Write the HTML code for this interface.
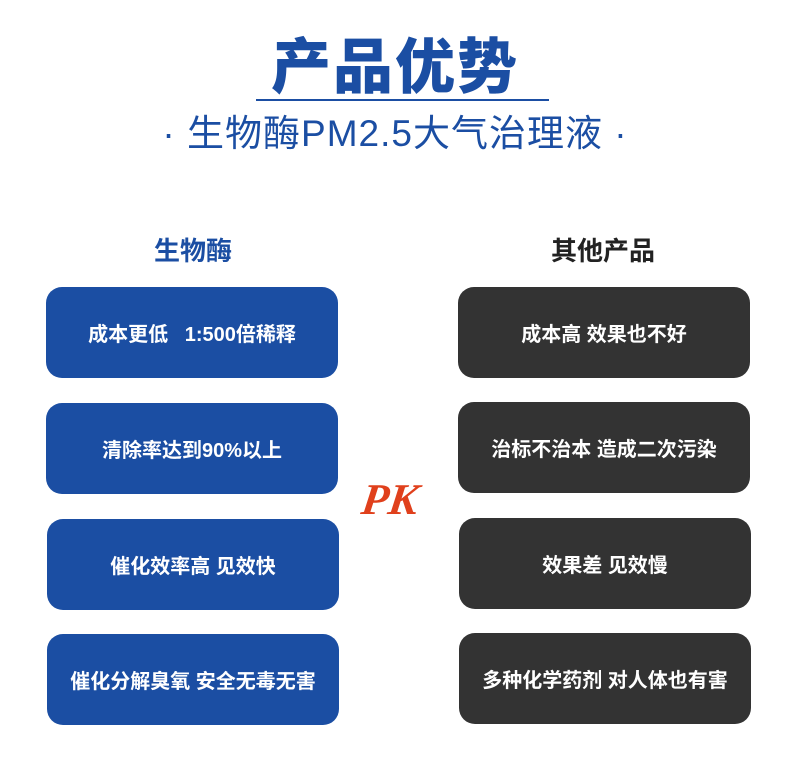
<!DOCTYPE html>
<html><head><meta charset="utf-8"><style>
body{margin:0;width:790px;height:776px;background:#fff;position:relative;overflow:hidden;font-family:"Liberation Sans","Noto Sans CJK SC",sans-serif}
.a{position:absolute;white-space:nowrap}
.t{left:0;width:790px;text-align:center}
.b{position:absolute;width:292px;height:91px;border-radius:16px;color:#fff;font-weight:bold;font-size:20px;display:flex;align-items:center;justify-content:center}
.l{background:#1b4ea3}.r{background:#333}
</style></head><body>
<div class="a t" style="top:31px;font-size:60px;font-weight:900;color:#1b4ea3;line-height:74px;letter-spacing:2px">产品优势</div>
<div class="a" style="left:256px;top:99px;width:293px;height:2px;background:#1b4ea3"></div>
<div class="a t" style="top:110px;font-size:37px;color:#1b4ea3;line-height:48px;letter-spacing:1px">· 生物酶PM2.5大气治理液 ·</div>
<div class="a" style="left:133px;top:233px;width:120px;text-align:center;font-size:26px;font-weight:bold;color:#1b4ea3;line-height:36px">生物酶</div>
<div class="a" style="left:533px;top:233px;width:140px;text-align:center;font-size:26px;font-weight:bold;color:#222;line-height:36px">其他产品</div>
<div class="b l" style="left:46px;top:287px">成本更低&nbsp;&nbsp;&nbsp;1:500倍稀释</div>
<div class="b l" style="left:46px;top:403px">清除率达到90%以上</div>
<div class="b l" style="left:47px;top:519px">催化效率高 见效快</div>
<div class="b l" style="left:47px;top:634px">催化分解臭氧 安全无毒无害</div>
<div class="b r" style="left:458px;top:287px">成本高 效果也不好</div>
<div class="b r" style="left:458px;top:402px">治标不治本 造成二次污染</div>
<div class="b r" style="left:459px;top:518px">效果差 见效慢</div>
<div class="b r" style="left:459px;top:633px">多种化学药剂 对人体也有害</div>
<div class="a" style="left:362px;top:472px;font-size:44px;font-weight:bold;font-style:italic;color:#e0401c;font-family:'Liberation Serif',serif;line-height:56px;transform:skewX(-8deg)">PK</div>
</body></html>
